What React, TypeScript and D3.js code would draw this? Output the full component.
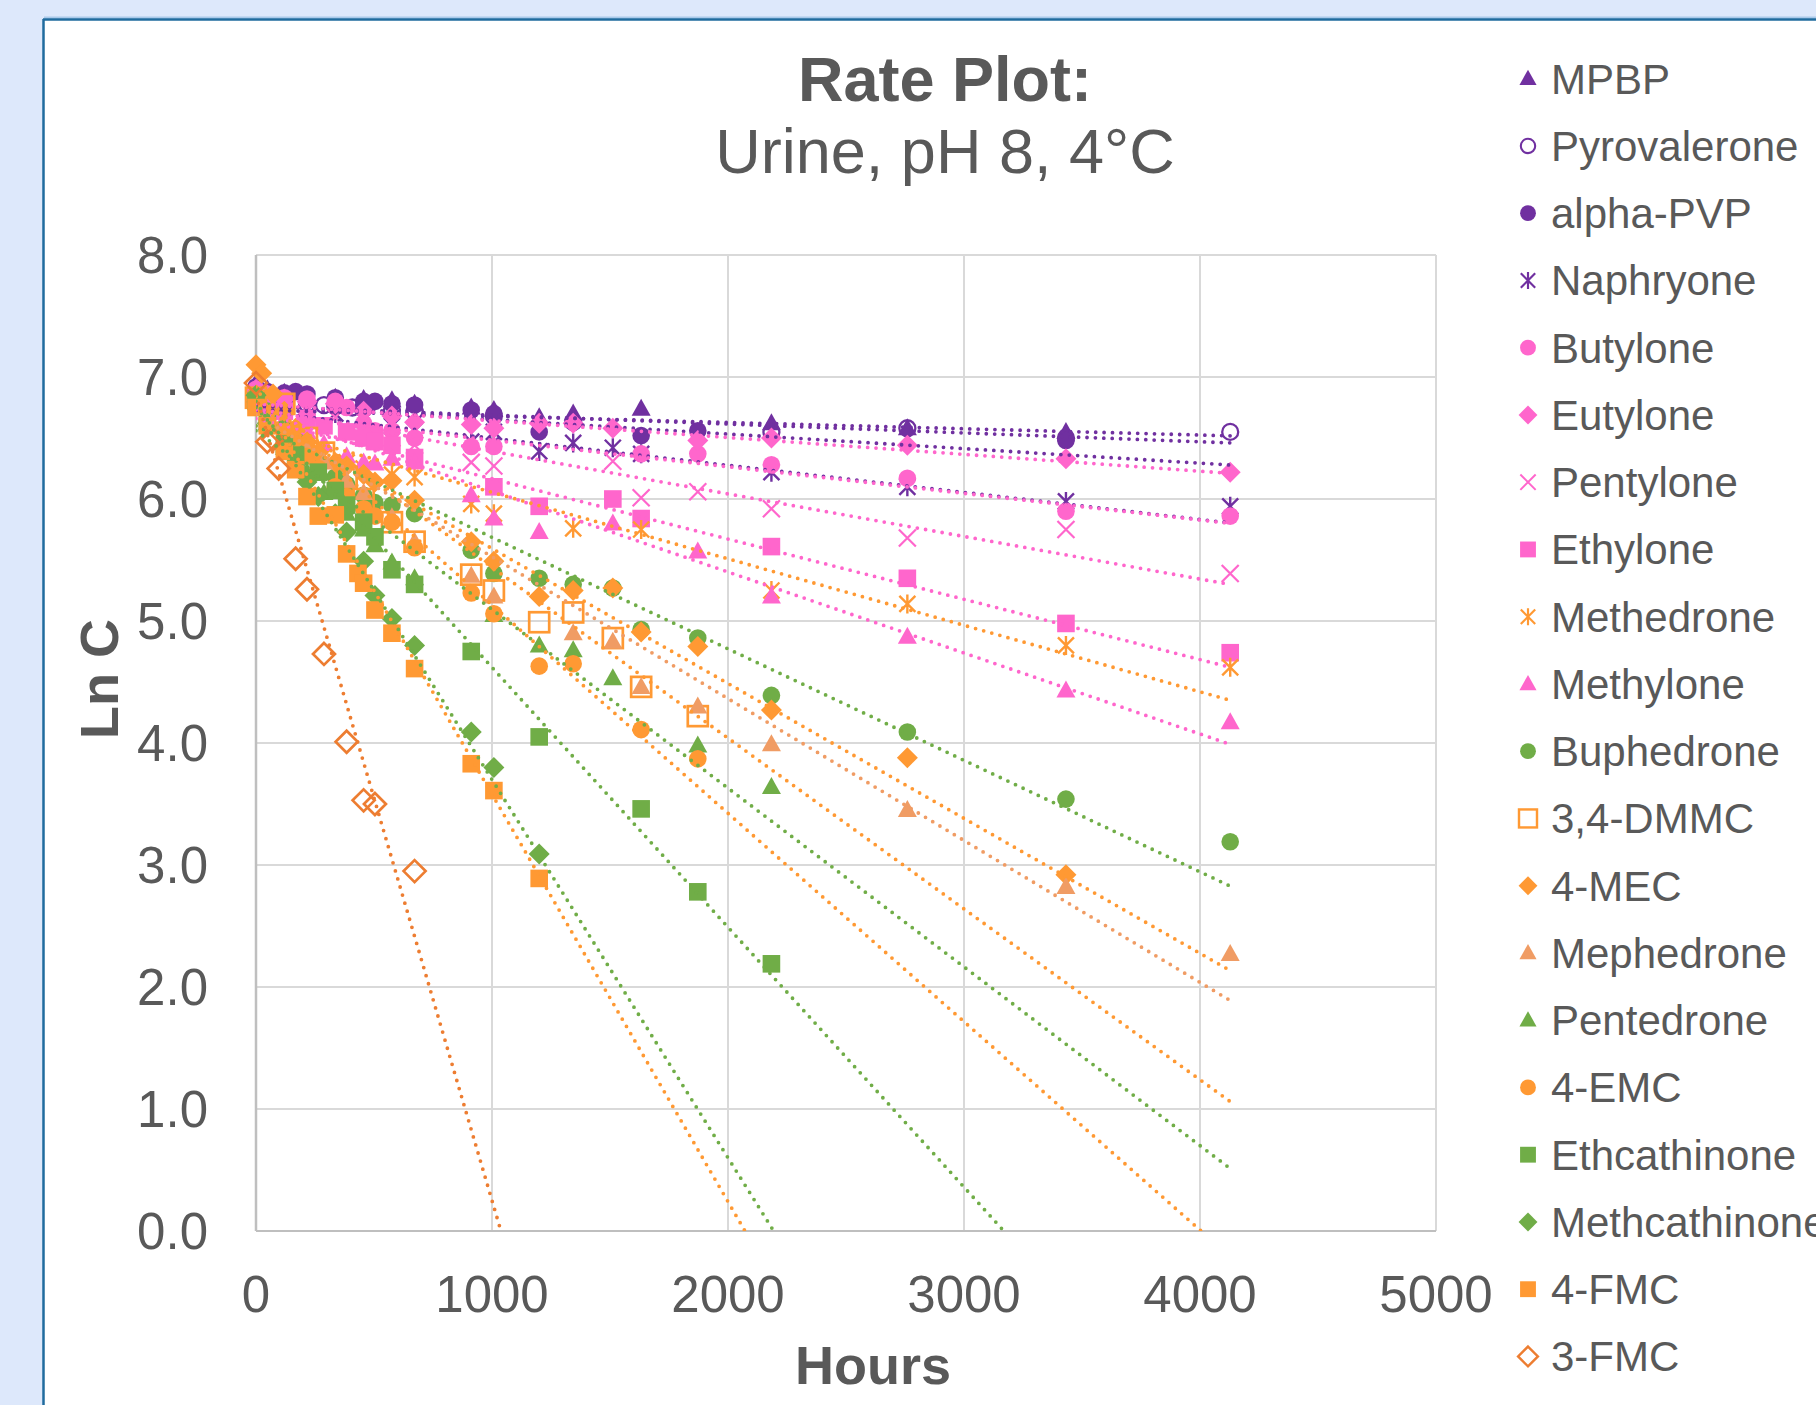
import React from 'react';
import * as d3 from 'd3';

// series data: [hours, ln C]
const MPBP = [[0, 6.95], [48, 6.9], [120, 6.87], [216, 6.85], [336, 6.83], [456, 6.82], [576, 6.81], [672, 6.78], [912, 6.75], [1008, 6.73], [1200, 6.67], [1344, 6.7], [1632, 6.74], [2184, 6.62], [2760, 6.58], [3432, 6.55]];
const PYROVALERONE = [[0, 6.9], [48, 6.86], [120, 6.82], [216, 6.78], [288, 6.77], [336, 6.76], [408, 6.75], [456, 6.74], [576, 6.73], [672, 6.72], [1008, 6.68], [1344, 6.63], [2184, 6.55], [2760, 6.58], [3432, 6.5], [4128, 6.55]];
const ALPHA_PVP = [[0, 6.92], [48, 6.88], [120, 6.87], [168, 6.88], [216, 6.86], [336, 6.83], [456, 6.8], [504, 6.8], [576, 6.78], [672, 6.77], [912, 6.73], [1008, 6.7], [1200, 6.55], [1632, 6.52], [1872, 6.56], [3432, 6.48]];
const NAPHYRONE = [[0, 6.85], [48, 6.8], [120, 6.78], [216, 6.75], [336, 6.7], [456, 6.65], [576, 6.6], [672, 6.56], [912, 6.47], [1008, 6.55], [1200, 6.39], [1344, 6.46], [1512, 6.42], [1632, 6.37], [2184, 6.22], [2760, 6.1], [3432, 5.98], [4128, 5.94]];
const BUTYLONE = [[0, 6.9], [48, 6.86], [120, 6.83], [216, 6.82], [336, 6.8], [384, 6.75], [456, 6.62], [504, 6.56], [576, 6.56], [672, 6.5], [912, 6.43], [1008, 6.43], [1632, 6.37], [1872, 6.37], [2184, 6.28], [2760, 6.17], [3432, 5.9], [4128, 5.86]];
const EUTYLONE = [[0, 6.9], [48, 6.85], [120, 6.82], [216, 6.8], [336, 6.78], [456, 6.72], [576, 6.68], [672, 6.63], [912, 6.61], [1008, 6.58], [1200, 6.62], [1344, 6.62], [1512, 6.58], [1872, 6.48], [2184, 6.5], [2760, 6.44], [3432, 6.33], [4128, 6.22]];
const PENTYLONE = [[0, 6.85], [48, 6.8], [120, 6.75], [216, 6.72], [336, 6.67], [456, 6.55], [576, 6.5], [672, 6.44], [912, 6.3], [1008, 6.27], [1512, 6.31], [1632, 6.01], [1872, 6.06], [2184, 5.92], [2760, 5.68], [3432, 5.75], [4128, 5.39]];
const ETHYLONE = [[0, 6.85], [48, 6.8], [120, 6.72], [216, 6.66], [288, 6.6], [384, 6.55], [456, 6.5], [504, 6.47], [576, 6.44], [672, 6.34], [1008, 6.1], [1200, 5.94], [1512, 6.0], [1632, 5.84], [2184, 5.61], [2760, 5.35], [3432, 4.98], [4128, 4.74]];
const METHEDRONE = [[0, 6.8], [48, 6.7], [120, 6.56], [216, 6.45], [288, 6.36], [384, 6.3], [456, 6.25], [576, 6.2], [672, 6.18], [912, 5.96], [1008, 5.88], [1344, 5.76], [1632, 5.75], [2184, 5.25], [2760, 5.14], [3432, 4.8], [4128, 4.62]];
const METHYLONE = [[0, 6.85], [48, 6.75], [120, 6.65], [216, 6.55], [288, 6.45], [384, 6.35], [456, 6.3], [504, 6.29], [576, 6.33], [672, 6.3], [912, 6.03], [1008, 5.84], [1200, 5.73], [1512, 5.8], [1872, 5.57], [2184, 5.2], [2760, 4.87], [3432, 4.43], [4128, 4.17]];
const BUPHEDRONE = [[0, 6.85], [48, 6.72], [120, 6.58], [168, 6.48], [216, 6.38], [264, 6.28], [336, 6.18], [384, 6.12], [456, 6.03], [504, 5.97], [576, 5.95], [672, 5.88], [912, 5.58], [1008, 5.39], [1200, 5.35], [1344, 5.3], [1512, 5.27], [1632, 4.93], [1872, 4.86], [2184, 4.39], [2760, 4.09], [3432, 3.54], [4128, 3.19]];
const DMMC_34 = [[0, 6.83], [24, 6.8], [120, 6.78], [216, 6.5], [288, 6.38], [384, 6.18], [456, 6.0], [576, 5.81], [672, 5.65], [912, 5.38], [1008, 5.25], [1200, 4.99], [1344, 5.07], [1512, 4.86], [1632, 4.46], [1872, 4.22]];
const MEC_4 = [[0, 7.1], [24, 7.03], [72, 6.86], [120, 6.72], [168, 6.58], [216, 6.47], [264, 6.38], [336, 6.3], [384, 6.27], [456, 6.2], [504, 6.14], [576, 6.15], [672, 5.99], [912, 5.65], [1008, 5.49], [1200, 5.2], [1344, 5.25], [1512, 5.27], [1632, 4.91], [1872, 4.79], [2184, 4.27], [2760, 3.88], [3432, 2.92]];
const MEPHEDRONE = [[0, 6.85], [48, 6.7], [120, 6.55], [216, 6.4], [288, 6.3], [384, 6.15], [456, 6.05], [576, 5.85], [672, 5.65], [912, 5.37], [1008, 5.2], [1344, 4.9], [1512, 4.83], [1632, 4.46], [1872, 4.3], [2184, 3.99], [2760, 3.45], [3432, 2.82], [4128, 2.27]];
const PENTEDRONE = [[0, 6.85], [48, 6.62], [120, 6.42], [216, 6.22], [288, 6.05], [384, 5.88], [456, 5.75], [504, 5.62], [576, 5.48], [672, 5.35], [1008, 5.05], [1200, 4.8], [1344, 4.76], [1512, 4.53], [1872, 3.98], [2184, 3.64]];
const EMC_4 = [[0, 6.85], [48, 6.7], [120, 6.55], [168, 6.45], [216, 6.35], [264, 6.25], [336, 6.1], [384, 6.02], [456, 5.92], [504, 5.86], [576, 5.81], [672, 5.6], [912, 5.23], [1008, 5.06], [1200, 4.63], [1344, 4.65], [1632, 4.11], [1872, 3.87]];
const ETHCATHINONE = [[0, 6.8], [48, 6.62], [120, 6.45], [168, 6.36], [264, 6.22], [336, 6.07], [384, 5.95], [456, 5.81], [504, 5.69], [576, 5.42], [672, 5.3], [912, 4.75], [1200, 4.05], [1632, 3.46], [1872, 2.78], [2184, 2.19]];
const METHCATHINONE = [[0, 6.85], [48, 6.62], [120, 6.42], [168, 6.28], [216, 6.14], [264, 6.02], [336, 5.88], [384, 5.73], [456, 5.49], [504, 5.21], [576, 5.02], [672, 4.8], [912, 4.09], [1008, 3.8], [1200, 3.09]];
const FMC_4 = [[0, 6.75], [48, 6.6], [120, 6.39], [168, 6.24], [216, 6.02], [264, 5.86], [336, 5.87], [384, 5.55], [432, 5.39], [456, 5.31], [504, 5.09], [576, 4.9], [672, 4.61], [912, 3.83], [1008, 3.61], [1200, 2.89]];
const FMC_3 = [[0, 6.95], [48, 6.47], [72, 6.49], [96, 6.25], [168, 5.51], [216, 5.26], [288, 4.73], [384, 4.01], [456, 3.53], [504, 3.5], [672, 2.95]];

const SERIES_NAMES = ['MPBP', 'Pyrovalerone', 'alpha-PVP', 'Naphryone', 'Butylone', 'Eutylone', 'Pentylone', 'Ethylone', 'Methedrone', 'Methylone', 'Buphedrone', '3,4-DMMC', '4-MEC', 'Mephedrone', 'Pentedrone', '4-EMC', 'Ethcathinone', 'Methcathinone', '4-FMC', '3-FMC'];
const SERIES_DATA = [MPBP, PYROVALERONE, ALPHA_PVP, NAPHYRONE, BUTYLONE, EUTYLONE, PENTYLONE, ETHYLONE, METHEDRONE, METHYLONE, BUPHEDRONE, DMMC_34, MEC_4, MEPHEDRONE, PENTEDRONE, EMC_4, ETHCATHINONE, METHCATHINONE, FMC_4, FMC_3];

// linear trendlines: ln C = intercept + slope * hours
const TREND_INTERCEPT = [6.73, 6.76, 6.77, 6.72, 6.70, 6.78, 6.74, 6.66, 6.60, 6.73, 6.60, 6.84, 6.70, 6.69, 6.56, 6.84, 6.75, 6.80, 6.92, 6.85];
const TREND_SLOPE = [-0.0000514, -0.0000727, -0.000119, -0.000222, -0.000218, -0.000138, -0.000349, -0.000494, -0.000545, -0.000664, -0.000914, -0.0014, -0.001106, -0.001163, -0.001465, -0.001708, -0.00213, -0.0031, -0.00334, -0.0066];
const TREND_END = 4128;

const X_TICKS = [0, 1000, 2000, 3000, 4000, 5000];
const Y_TICKS = [0, 1, 2, 3, 4, 5, 6, 7, 8];

// styles
const PURPLE = '#7030a0';
const PINK = '#ff66cc';
const ORANGE = '#ff9933';
const SALMON = '#f09c64';
const GREEN = '#70ad47';
const DARK_ORANGE = '#ed7d31';
const SERIES_COLORS = [PURPLE, PURPLE, PURPLE, PURPLE, PINK, PINK, PINK, PINK, ORANGE, PINK, GREEN, ORANGE, ORANGE, SALMON, GREEN, ORANGE, GREEN, GREEN, ORANGE, DARK_ORANGE];
const SERIES_SHAPES = ['triangle', 'ocircle', 'circle', 'star', 'circle', 'diamond', 'x', 'square', 'star', 'triangle', 'circle', 'osquare', 'diamond', 'triangle', 'triangle', 'circle', 'square', 'diamond', 'square', 'odiamond'];

const TEXT = '#595959';
const FONT = 'Arial, "Liberation Sans", sans-serif';

const Marker = ({ shape, color, x, y, k = 1 }) => {
  const t = `translate(${x},${y}) scale(${k})`;
  switch (shape) {
    case 'triangle':
      return <path transform={t} d="M0,-10L9.5,7L-9.5,7Z" fill={color} />;
    case 'circle':
      return <circle transform={t} r={8.8} fill={color} />;
    case 'ocircle':
      return <circle transform={t} r={8} fill="none" stroke={color} strokeWidth={2.3} />;
    case 'star':
      return <path transform={t} d="M-8,-8L8,8M-8,8L8,-8M0,-9.5L0,9.5" stroke={color} strokeWidth={2.4} fill="none" />;
    case 'x':
      return <path transform={t} d="M-8.5,-8.5L8.5,8.5M-8.5,8.5L8.5,-8.5" stroke={color} strokeWidth={2.2} fill="none" />;
    case 'diamond':
      return <path transform={t} d="M0,-10.5L10.5,0L0,10.5L-10.5,0Z" fill={color} />;
    case 'square':
      return <rect transform={t} x={-8.8} y={-8.8} width={17.6} height={17.6} fill={color} />;
    case 'osquare':
      return <rect transform={t} x={-10} y={-10} width={20} height={20} fill="none" stroke={color} strokeWidth={2.7} />;
    case 'odiamond':
      return <path transform={t} d="M0,-11L11,0L0,11L-11,0Z" fill="none" stroke={color} strokeWidth={2.7} />;
    default:
      return null;
  }
};

export default function App() {
  const W = 1816;
  const H = 1405;
  const plot = { left: 256, top: 255, right: 1436, bottom: 1231 };

  const x = d3.scaleLinear().domain([0, 5000]).range([plot.left, plot.right]);
  const y = d3.scaleLinear().domain([0, 8]).range([plot.bottom, plot.top]);

  const line = d3.line<number[]>().x(d => x(d[0])).y(d => y(d[1]));

  const legendX = 1528;
  const legendY0 = 78.7;
  const legendStep = 67.25;

  return (
    <svg width={W} height={H} style={{ position: 'absolute', left: 0, top: 0 }} fontFamily={FONT}>
      <defs>
        <clipPath id="plotClip">
          <rect x={plot.left} y={plot.top - 20} width={plot.right - plot.left} height={plot.bottom - plot.top + 20} />
        </clipPath>
      </defs>
      <rect x={0} y={0} width={W} height={H} fill="#dde8fb" />
      <rect x={44} y={20} width={W - 44} height={H - 20} fill="#ffffff" />
      <line x1={44} x2={W} y1={17.5} y2={17.5} stroke="#a9c9ea" strokeWidth={2} />
      <line x1={43} x2={W} y1={19.5} y2={19.5} stroke="#1f6b9e" strokeWidth={2.5} />
      <line x1={43.5} x2={43.5} y1={19} y2={H} stroke="#1f6b9e" strokeWidth={2.5} />

      {/* title */}
      <text x={945} y={101} textAnchor="middle" fontSize={63} fontWeight="bold" fill={TEXT}>Rate Plot:</text>
      <text x={945} y={173} textAnchor="middle" fontSize={63} fill={TEXT}>Urine, pH 8, 4°C</text>

      {/* grid */}
      {Y_TICKS.filter(v => v > 0).map(v => (
        <line key={'gy' + v} x1={plot.left} x2={plot.right} y1={y(v)} y2={y(v)} stroke="#d9d9d9" strokeWidth={2} />
      ))}
      {X_TICKS.filter(v => v > 0).map(v => (
        <line key={'gx' + v} x1={x(v)} x2={x(v)} y1={plot.top} y2={plot.bottom} stroke="#d9d9d9" strokeWidth={2} />
      ))}
      <line x1={plot.left} x2={plot.right} y1={y(0)} y2={y(0)} stroke="#bfbfbf" strokeWidth={2} />
      <line x1={x(0)} x2={x(0)} y1={plot.top} y2={plot.bottom} stroke="#bfbfbf" strokeWidth={2.5} />

      {/* tick labels */}
      {Y_TICKS.map(v => (
        <text key={'ty' + v} x={208} y={y(v) + 18} textAnchor="end" fontSize={51} fill={TEXT}>{v.toFixed(1)}</text>
      ))}
      {X_TICKS.map(v => (
        <text key={'tx' + v} x={x(v)} y={1312} textAnchor="middle" fontSize={51} fill={TEXT}>{v}</text>
      ))}

      {/* axis titles */}
      <text x={873} y={1384} textAnchor="middle" fontSize={54} fontWeight="bold" fill={TEXT}>Hours</text>
      <text transform={`translate(118,679) rotate(-90)`} textAnchor="middle" fontSize={54} fontWeight="bold" fill={TEXT}>Ln C</text>

      {/* markers */}
      {SERIES_DATA.map((data, i) => (
        <g key={'s' + i}>
          {data.map((d, j) => (
            <Marker key={j} shape={SERIES_SHAPES[i]} color={SERIES_COLORS[i]} x={x(d[0])} y={y(d[1])} />
          ))}
        </g>
      ))}

      {/* trendlines */}
      <g clipPath="url(#plotClip)">
        {SERIES_NAMES.map((name, i) => {
          const pts = [[0, TREND_INTERCEPT[i]], [TREND_END, TREND_INTERCEPT[i] + TREND_SLOPE[i] * TREND_END]];
          return (
            <path key={'t' + name} d={line(pts) || ''} fill="none" stroke={SERIES_COLORS[i]} strokeWidth={3.8}
              strokeDasharray="0 8.4" strokeLinecap="round" />
          );
        })}
      </g>
      <rect x={plot.left - 20} y={plot.bottom + 1} width={plot.right - plot.left + 40} height={30} fill="#ffffff" />

      {/* legend */}
      {SERIES_NAMES.map((name, i) => {
        const cy = legendY0 + i * legendStep;
        return (
          <g key={'l' + name}>
            <Marker shape={SERIES_SHAPES[i]} color={SERIES_COLORS[i]} x={legendX} y={cy} k={0.9} />
            <text x={1551} y={cy + 15} fontSize={42} fill={TEXT}>{name}</text>
          </g>
        );
      })}
    </svg>
  );
}
